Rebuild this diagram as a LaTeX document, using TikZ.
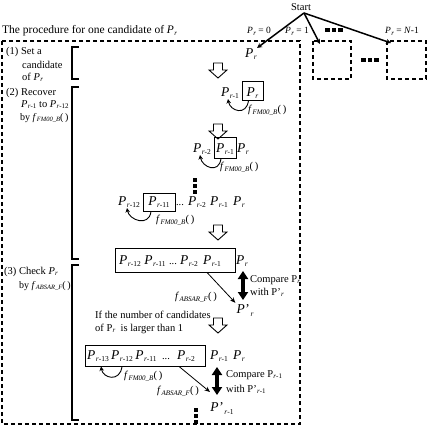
\documentclass[tikz,border=0pt]{standalone}
\usepackage{fontspec}
\setmainfont{Liberation Serif}
\usetikzlibrary{arrows.meta}

% italic P with subscript r...
\newcommand\myP[1]{{\fontsize{13.5}{15}\selectfont\textit{P}}\kern0.5pt\raisebox{-2.8pt}{\fontsize{7.5}{9}\selectfont\textit{r}#1}}
\newcommand\myPp[1]{{\fontsize{13.5}{15}\selectfont\textit{P}\kern0.6pt'}\kern0.6pt\raisebox{-3.8pt}{\fontsize{7.5}{9}\selectfont\textit{r}#1}}
\newcommand\myPt[1]{\textit{P}\kern0.3pt\raisebox{-1.8pt}{\fontsize{7}{8}\selectfont\textit{r}#1}}
\newcommand\myPu[1]{P\kern0.3pt\raisebox{-1.8pt}{\fontsize{7}{8}\selectfont\textit{r}#1}}
\newcommand\myPup[1]{P'\kern0.3pt\raisebox{-1.8pt}{\fontsize{7}{8}\selectfont\textit{r}#1}}
\newcommand\myfn[1]{\textit{f}\kern0.3pt\raisebox{-1.8pt}{\fontsize{7}{8}\selectfont\textit{#1}}(\,)}
\newcommand\myfns[1]{\textit{f}\kern0.3pt\raisebox{-1.8pt}{\fontsize{6.5}{7}\selectfont\textit{#1}}(\,)}

\begin{document}
\begin{tikzpicture}[x=1pt,y=-1pt,
  every node/.style={inner sep=0pt, font=\fontsize{10.5}{13}\selectfont},
  bigdash/.style={line width=2pt, dash pattern=on 4pt off 3pt},
  brk/.style={line width=1.6pt},
  rowbox/.style={draw, line width=0.9pt, inner sep=0pt},
  curv/.style={line width=0.9pt, -{Stealth[length=4.5pt,width=4.5pt]}},
  thinarr/.style={line width=0.8pt, -{Stealth[length=5.5pt,width=4.5pt]}},
  startl/.style={line width=1.5pt, -{Stealth[length=5pt,width=5pt]}},
  dbl/.style={line width=3.5pt, arrows={Triangle[length=8pt,width=10pt]-Triangle[length=8pt,width=10pt]}},
  sq/.style={fill=black, minimum size=4.5pt, inner sep=0pt},
  fnlab/.style={font=\fontsize{10.5}{12}\selectfont},
  cmp/.style={font=\fontsize{10.5}{12}\selectfont},
  hollow/.pic={\draw[line width=0.9pt, fill=white] (-4.5,0) -- (4.5,0) -- (4.5,7) -- (9,7) -- (0,15) -- (-9,7) -- (-4.5,7) -- cycle;}
]
\useasboundingbox (0,0) rectangle (428,428);

% dashed frames
\draw[bigdash] (2,41) rectangle (300,424);
\draw[bigdash] (313,41) rectangle (351,79);
\draw[bigdash] (387,41) rectangle (426,79);

% top part
\node[anchor=base west, font=\fontsize{11.5}{13}\selectfont] (title) at (2,34) {The procedure for one candidate of \myPt{}};
\node[anchor=base] (start) at (301,11) {Start};
\node[anchor=base, font=\fontsize{9.5}{10}\selectfont] (lab0) at (259,34) {\myPt{} = 0};
\node[anchor=base, font=\fontsize{9.5}{10}\selectfont] (lab1) at (297,34) {\myPt{} = 1};
\node[anchor=base, font=\fontsize{9.5}{10}\selectfont] (lab2) at (402,34) {\myPt{} = \textit{N}-1};
\node[anchor=base] (ptop) at (251,57) {\myP{}};
\coordinate (sroot) at (304,13);
\coordinate (e1) at (320,44);
\coordinate (e2) at (391,43);
\draw[startl] (sroot) -- (ptop.north east);
\draw[startl] (sroot) -- (e1);
\draw[startl] (sroot) -- (e2);
\foreach \i/\x in {1/327.5,2/334,3/340.5} \node[sq] (ht\i) at (\x,30) {};
\foreach \i/\x in {1/363.5,2/370,3/376.5} \node[sq] (hm\i) at (\x,60) {};

% left column
\node[anchor=base west] (t1a) at (6,55) {(1) Set a};
\node[anchor=base west] (t1b) at (22,68) {candidate};
\node[anchor=base west] (t1c) at (22,80) {of \myPt{}};
\node[anchor=base west] (t2a) at (6,95) {(2) Recover};
\node[anchor=base west] (t2b) at (21,107) {\myPt{-1} to \myPt{-12}};
\node[anchor=base west, font=\fontsize{10}{12}\selectfont] (t2c) at (20,120) {by \myfns{FM00\_B}};
\node[anchor=base west] (t3a) at (4,274) {(3) Check \myPt{}};
\node[anchor=base west, font=\fontsize{10}{12}\selectfont] (t3b) at (19,288) {by \myfns{ABSAR\_F}};
\draw[brk] (79,47) -- (72,47) -- (72,79) -- (79,79);
\draw[brk] (79,87) -- (72,87) -- (72,259) -- (79,259);
\draw[brk] (79,265) -- (72,265) -- (72,420) -- (79,420);

% hollow arrows
\pic at (218,63) {hollow};
\pic at (218,124) {hollow};
\pic at (218,225) {hollow};
\pic at (218,318) {hollow};

% row 1
\node[anchor=base] (r1a) at (230,96) {\myP{-1}};
\node[rowbox, minimum width=21pt, minimum height=19pt] (r1b) at (252.5,90.5) {};
\node[anchor=base] (r1bt) at (252.5,96) {\myP{}};
\draw[curv] ([xshift=-4pt]r1b.south) .. controls +(-2,16) and +(2,12) .. ([xshift=-2pt]r1a.south);
\node[anchor=west, fnlab] (f1) at (248,110) {\myfn{FM00\_B}};

% row 2
\node[anchor=base] (r2a) at (202,152) {\myP{-2}};
\node[rowbox, minimum width=22pt, minimum height=21pt] (r2b) at (225,147.5) {};
\node[anchor=base] (r2bt) at (225,152) {\myP{-1}};
\node[anchor=base] (r2c) at (243,152) {\myP{}};
\draw[curv] ([xshift=-4pt]r2b.south) .. controls +(-2,16) and +(2,12) .. ([xshift=-2pt]r2a.south);
\node[anchor=west, fnlab] (f2) at (220,167) {\myfn{FM00\_B}};
\foreach \i/\y in {1/180,2/186,3/192} \node[sq] (v\i) at (195,\y) {};

% row 3
\node[anchor=base] (r3a) at (129,205) {\myP{-12}};
\node[rowbox, minimum width=32pt, minimum height=18pt] (r3b) at (159,202) {};
\node[anchor=base] (r3bt) at (159,205) {\myP{-11}};
\node[anchor=base] (r3d) at (180,205) {...};
\node[anchor=base] (r3e) at (197,205) {\myP{-2}};
\node[anchor=base] (r3f) at (219,205) {\myP{-1}};
\node[anchor=base] (r3g) at (239,205) {\myP{}};
\draw[curv] ([xshift=-8pt]r3b.south) .. controls +(-2,16) and +(2,12) .. ([xshift=-2pt]r3a.south);
\node[anchor=west, fnlab] (f3) at (156,220) {\myfn{FM00\_B}};

% row 4
\node[rowbox, minimum width=120pt, minimum height=24pt] (r4box) at (175,260) {};
\node[anchor=base] (r4a) at (130,264) {\myP{-12}};
\node[anchor=base] (r4b) at (155,264) {\myP{-11}};
\node[anchor=base] (r4c) at (173,264) {...};
\node[anchor=base] (r4d) at (189,264) {\myP{-2}};
\node[anchor=base] (r4e) at (212,264) {\myP{-1}};
\node[anchor=base] (r4f) at (242,264) {\myP{}};
\node[anchor=base] (r4pp) at (245,313) {\myPp{}};
\draw[thinarr] ([xshift=32pt]r4box.south) -- ([xshift=-1pt,yshift=1pt]r4pp.north west);
\node[fnlab] (f4) at (196,297) {\myfn{ABSAR\_F}};
\coordinate (d1a) at (243,271);
\coordinate (d1b) at (243,300);
\draw[dbl] (d1a) -- (d1b);
\node[anchor=base west, cmp] (c1a) at (250,282) {Compare \myPu{}};
\node[anchor=base west, cmp] (c1b) at (250,295) {with \myPup{}};

% condition text
\node[anchor=base west, font=\fontsize{10.5}{12}\selectfont] (if1) at (95,318) {If the number of candidates};
\node[anchor=base west, font=\fontsize{10.5}{12}\selectfont] (if2) at (95,331) {of \myPu{}\ \ is larger than 1};

% row 5
\node[rowbox, minimum width=120pt, minimum height=21pt] (r5box) at (145,355.5) {};
\node[anchor=base] (r5a) at (98,359) {\myP{-13}};
\node[anchor=base] (r5b) at (122,359) {\myP{-12}};
\node[anchor=base] (r5c) at (146,359) {\myP{-11}};
\node[anchor=base] (r5d) at (166,359) {...};
\node[anchor=base] (r5e) at (186,359) {\myP{-2}};
\node[anchor=base] (r5f) at (219,359) {\myP{-1}};
\node[anchor=base] (r5g) at (239,359) {\myP{}};
\draw[curv] ([xshift=-23pt]r5box.south) .. controls +(-2,16) and +(2,12) .. ([xshift=-44pt]r5box.south);
\node[anchor=west, fnlab] (f5) at (124,376) {\myfn{FM00\_B}};
\node[anchor=base] (r5pp) at (222,411) {\myPp{-1}};
\coordinate (a5end) at (210,392);
\draw[thinarr] ([xshift=34pt]r5box.south) -- (a5end);
\node[fnlab] (f6) at (178,391) {\myfn{ABSAR\_F}};
\coordinate (d2a) at (217,367);
\coordinate (d2b) at (217,395);
\draw[dbl] (d2a) -- (d2b);
\node[anchor=base west, cmp] (c2a) at (226,377) {Compare \myPu{-1}};
\node[anchor=base west, cmp] (c2b) at (226,392) {with \myPup{-1}};
\foreach \i/\y in {1/410,2/416,3/422} \node[sq] (w\i) at (196,\y) {};
\end{tikzpicture}
\end{document}
